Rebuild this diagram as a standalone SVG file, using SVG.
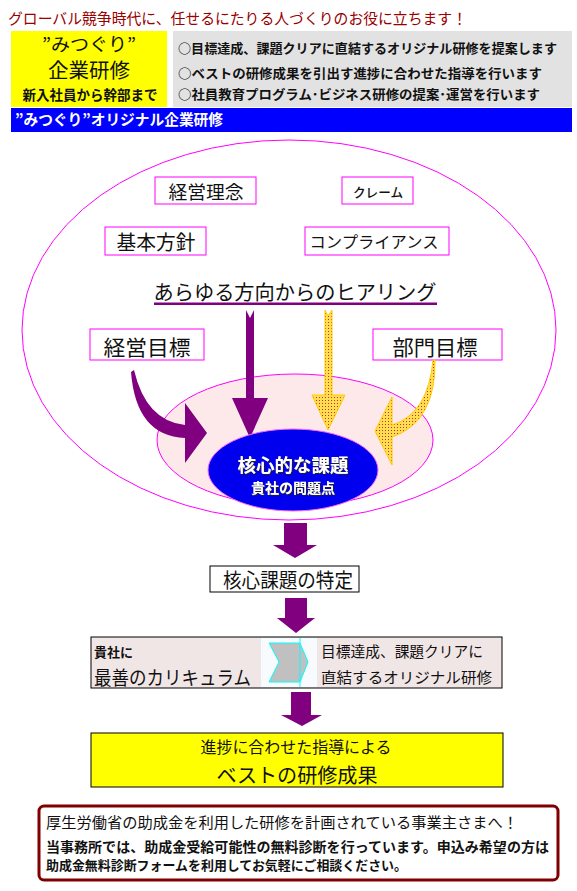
<svg xmlns="http://www.w3.org/2000/svg" width="577" height="891" viewBox="0 0 577 891">
<style>
text{font-family:"Noto Sans CJK JP","Noto Sans",sans-serif;fill:#111}
.mbox{fill:#fff;stroke:#ff00ff;stroke-width:1}
.kbox{stroke:#000;stroke-width:1}
.pur{fill:#800080}
.yel{fill:url(#dots);stroke:#ffcc00;stroke-width:1}
.b{font-weight:bold}
</style>
<defs>
<pattern id="dots" width="3" height="3" patternUnits="userSpaceOnUse">
<rect width="3" height="3" fill="#ffdd55"/>
<rect x="1" y="1" width="1" height="1" fill="#cc3300"/>
</pattern>
<filter id="sh" x="-10%" y="-10%" width="120%" height="130%">
<feDropShadow dx="1" dy="1" stdDeviation="0" flood-color="#222"/>
</filter>
</defs>
<rect width="577" height="891" fill="#fff"/>

<g id="header">
<text x="8" y="24" font-size="15" style="fill:#990000" textLength="459" lengthAdjust="spacingAndGlyphs">グローバル競争時代に、任せるにたりる人づくりのお役に立ちます！</text>
<rect x="11" y="31" width="156" height="76" fill="#ffff00"/>
<text x="89" y="51" font-size="18" text-anchor="middle" textLength="94" lengthAdjust="spacingAndGlyphs">”みつぐり”</text>
<text x="89" y="78" font-size="20" text-anchor="middle" textLength="82" lengthAdjust="spacingAndGlyphs">企業研修</text>
<text x="90" y="100" font-size="14" class="b" text-anchor="middle" textLength="135" lengthAdjust="spacingAndGlyphs">新入社員から幹部まで</text>
<rect x="173" y="31" width="399" height="76" fill="#e2e2e2"/>
<text x="178" y="53" font-size="13" class="b" textLength="379" lengthAdjust="spacingAndGlyphs">○目標達成、課題クリアに直結するオリジナル研修を提案します</text>
<text x="178" y="78" font-size="13" class="b" textLength="364" lengthAdjust="spacingAndGlyphs">○ベストの研修成果を引出す進捗に合わせた指導を行います</text>
<text x="178" y="99" font-size="13" class="b" textLength="362" lengthAdjust="spacingAndGlyphs">○社員教育プログラム･ビジネス研修の提案･運営を行います</text>
<rect x="11" y="108" width="561" height="24" fill="#0000ff"/>
<text x="15" y="125" font-size="15" class="b" style="fill:#fff" textLength="208" lengthAdjust="spacingAndGlyphs">”みつぐり”オリジナル企業研修</text>
</g>

<g id="outer-ellipse">
<ellipse cx="289" cy="330" rx="267" ry="190" fill="#fff" stroke="#ff00ff" stroke-width="1"/>
</g>
<g id="inner-ellipse">
<ellipse cx="295" cy="440" rx="138" ry="66" fill="#fde9e9" stroke="#ff00ff" stroke-width="1"/>
</g>

<g id="n-keiei-rinen">
<rect class="mbox" x="155" y="177" width="101" height="27"/>
<text x="206" y="199" font-size="18" text-anchor="middle" textLength="75" lengthAdjust="spacingAndGlyphs">経営理念</text>
</g>
<g id="n-claim">
<rect class="mbox" x="342" y="177" width="71" height="27"/>
<text x="378" y="197" font-size="13" text-anchor="middle" style="font-weight:500" textLength="50" lengthAdjust="spacingAndGlyphs">クレーム</text>
</g>
<g id="n-kihon">
<rect class="mbox" x="105" y="227" width="101" height="28"/>
<text x="156" y="250" font-size="20" text-anchor="middle" textLength="79" lengthAdjust="spacingAndGlyphs">基本方針</text>
</g>
<g id="n-compliance">
<rect class="mbox" x="305" y="227" width="144" height="28"/>
<text x="374" y="248" font-size="16" text-anchor="middle" textLength="129" lengthAdjust="spacingAndGlyphs">コンプライアンス</text>
</g>
<g id="n-hearing">
<text x="295" y="300" font-size="20" text-anchor="middle" textLength="283" lengthAdjust="spacingAndGlyphs">あらゆる方向からのヒアリング</text>
<rect x="154" y="302.5" width="283" height="2.5" fill="#800080"/>
</g>
<g id="n-keiei-mokuhyo">
<rect class="mbox" x="90" y="329" width="114" height="31"/>
<text x="147" y="355" font-size="21" text-anchor="middle" textLength="87" lengthAdjust="spacingAndGlyphs">経営目標</text>
</g>
<g id="n-bumon">
<rect class="mbox" x="373" y="329" width="129" height="31"/>
<text x="435" y="355" font-size="21" text-anchor="middle" textLength="85" lengthAdjust="spacingAndGlyphs">部門目標</text>
</g>

<g id="connectors">
<path class="pur" d="M246,310 L250,318 L254,310 L254,398 L268,398 L250,438 L232,398 L246,398 Z"/>
<path class="yel" d="M325,310 L328,316 L332,310 L332,395 L345,395 L328,430 L312,395 L325,395 Z"/>
<path class="pur" d="M134,370 Q146,421 185,425 L185,403 L207,433 L185,463 L185,438 Q136,436 131,372 Z"/>
<path class="yel" d="M433,360 Q428,414 392,425 L392,397 L375,431 L392,465 L392,437 Q436,422 435,360 Z"/>
<path class="pur" d="M284,523 L307,523 L307,545 L317,545 L295,558 L273,545 L284,545 Z"/>
<path class="pur" d="M285,598 L307,598 L307,618 L315,618 L296,633 L277,618 L285,618 Z"/>
<path class="pur" d="M291,692 L311,692 L311,715 L322,715 L302,726 L281,715 L291,715 Z"/>
</g>

<g id="n-core">
<ellipse cx="293" cy="470" rx="85" ry="41" fill="#0000ee" stroke="#ff66ff" stroke-width="1"/>
<text x="293" y="472" font-size="18.5" class="b" text-anchor="middle" style="fill:#fff" filter="url(#sh)" textLength="111" lengthAdjust="spacingAndGlyphs">核心的な課題</text>
<text x="293" y="493" font-size="14" class="b" text-anchor="middle" style="fill:#fff" filter="url(#sh)" textLength="84" lengthAdjust="spacingAndGlyphs">貴社の問題点</text>
</g>

<g id="n-tokutei">
<rect class="kbox" x="210" y="566" width="149" height="26" fill="#fff"/>
<text x="288" y="588" font-size="20" text-anchor="middle" textLength="130" lengthAdjust="spacingAndGlyphs">核心課題の特定</text>
</g>

<g id="n-curriculum">
<rect x="91" y="637" width="411" height="51" fill="#f1e6e6" stroke="#000" stroke-width="1"/>
<rect x="261" y="638" width="56" height="49" fill="#f8fbfd"/>
<polygon points="269,643 300,643 308,662 300,682 269,682 279,662" fill="#c0c0c0" stroke="#00ffff" stroke-width="1"/>
<line x1="300" y1="638" x2="300" y2="687" stroke="#00ffff" stroke-width="1"/>
<text x="94" y="657" font-size="13" class="b" textLength="39" lengthAdjust="spacingAndGlyphs">貴社に</text>
<text x="94" y="685" font-size="19" textLength="157" lengthAdjust="spacingAndGlyphs">最善のカリキュラム</text>
<text x="321" y="657" font-size="15" textLength="162" lengthAdjust="spacingAndGlyphs">目標達成、課題クリアに</text>
<text x="321" y="683" font-size="15" textLength="171" lengthAdjust="spacingAndGlyphs">直結するオリジナル研修</text>
</g>

<g id="n-result">
<rect class="kbox" x="91" y="733" width="412" height="54" fill="#ffff00"/>
<text x="296" y="753" font-size="16" text-anchor="middle" textLength="191" lengthAdjust="spacingAndGlyphs">進捗に合わせた指導による</text>
<text x="297" y="783" font-size="20" text-anchor="middle" textLength="161" lengthAdjust="spacingAndGlyphs">ベストの研修成果</text>
</g>

<g id="n-notice">
<rect x="39" y="806" width="519" height="74" rx="5" fill="#fff" stroke="#800000" stroke-width="3"/>
<text x="46" y="828" font-size="15" textLength="472" lengthAdjust="spacingAndGlyphs">厚生労働省の助成金を利用した研修を計画されている事業主さまへ！</text>
<text x="46" y="852" font-size="13.5" class="b" textLength="503" lengthAdjust="spacingAndGlyphs">当事務所では、助成金受給可能性の無料診断を行っています。申込み希望の方は</text>
<text x="46" y="870" font-size="13" class="b" textLength="361" lengthAdjust="spacingAndGlyphs">助成金無料診断フォームを利用してお気軽にご相談ください。</text>
</g>
</svg>
